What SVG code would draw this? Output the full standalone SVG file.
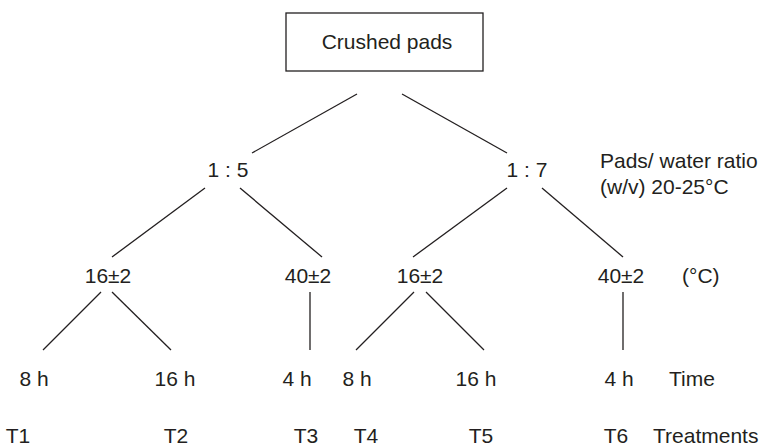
<svg xmlns="http://www.w3.org/2000/svg" width="765" height="446" viewBox="0 0 765 446">
<style>
text{font-family:"Liberation Sans",Arial,sans-serif;font-size:21px;fill:#231f20}
.m{text-anchor:middle}
.box{fill:#fff;stroke:#231f20;stroke-width:1.3}
#connectors line{stroke:#231f20;stroke-width:1.3}
</style>
<rect width="765" height="446" fill="#fff"/>
<g id="connectors">
<line x1="357" y1="94" x2="252" y2="153"/>
<line x1="402" y1="94" x2="507" y2="153"/>
<line x1="205" y1="188" x2="112" y2="257"/>
<line x1="240" y1="188" x2="322" y2="257"/>
<line x1="507" y1="188" x2="413" y2="257"/>
<line x1="542" y1="188" x2="623" y2="257"/>
<line x1="101" y1="292" x2="43" y2="350"/>
<line x1="112" y1="292" x2="171" y2="350"/>
<line x1="310" y1="292" x2="310" y2="350"/>
<line x1="414" y1="292" x2="356" y2="350"/>
<line x1="426" y1="292" x2="484" y2="350"/>
<line x1="623" y1="292" x2="623" y2="350"/>
</g>
<g id="root"><rect class="box" x="286" y="13" width="197" height="58"/><text class="m" x="387" y="49">Crushed pads</text></g>
<g id="r15"><text class="m" x="228" y="177">1 : 5</text></g>
<g id="r17"><text class="m" x="527" y="177">1 : 7</text></g>
<g id="ratio-label"><text x="600" y="168">Pads/ water ratio</text><text x="600" y="194">(w/v) 20-25°C</text></g>
<g id="t1a"><text class="m" x="108" y="283">16±2</text></g>
<g id="t1b"><text class="m" x="308" y="283">40±2</text></g>
<g id="t2a"><text class="m" x="420" y="283">16±2</text></g>
<g id="t2b"><text class="m" x="621" y="283">40±2</text></g>
<g id="temp-label"><text x="682" y="283">(°C)</text></g>
<g id="h1"><text class="m" x="34" y="386">8 h</text></g>
<g id="h2"><text class="m" x="175" y="386">16 h</text></g>
<g id="h3"><text class="m" x="297" y="386">4 h</text></g>
<g id="h4"><text class="m" x="357" y="386">8 h</text></g>
<g id="h5"><text class="m" x="476" y="386">16 h</text></g>
<g id="h6"><text class="m" x="619" y="386">4 h</text></g>
<g id="time-label"><text x="669" y="386">Time</text></g>
<g id="T1"><text class="m" x="18" y="443">T1</text></g>
<g id="T2"><text class="m" x="176" y="443">T2</text></g>
<g id="T3"><text class="m" x="306" y="443">T3</text></g>
<g id="T4"><text class="m" x="366" y="443">T4</text></g>
<g id="T5"><text class="m" x="481" y="443">T5</text></g>
<g id="T6"><text class="m" x="616" y="443">T6</text></g>
<g id="treat-label"><text x="653" y="443">Treatments</text></g>
</svg>
